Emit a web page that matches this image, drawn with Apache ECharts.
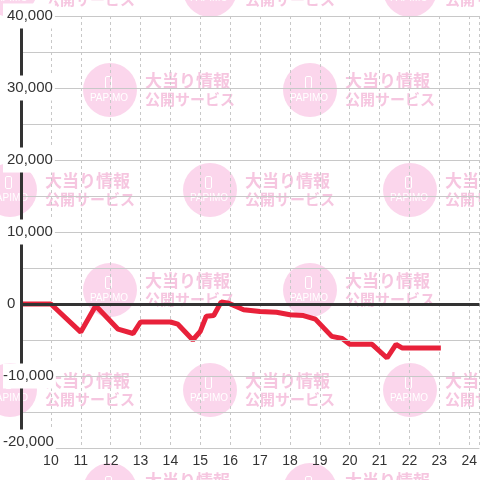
<!DOCTYPE html>
<html>
<head>
<meta charset="utf-8">
<script src="https://cdn.jsdelivr.net/npm/echarts@6/dist/echarts.min.js"></script>
<style>html,body{margin:0;padding:0;background:#fff;}#c{width:480px;height:480px;}</style>
</head>
<body>
<div id="c"></div>
<script>
// Data
const hours = [9, 10, 11, 11.5, 12.25, 12.75, 13, 14, 14.25, 14.75, 15, 15.2, 15.45, 15.7, 15.95, 16.45, 17, 17.55, 18, 18.45, 18.85, 19.4, 19.75, 20, 20.75, 21.25, 21.55, 21.75, 23.05];
const values = [0, 0, -3900, -250, -3500, -4100, -2500, -2500, -2800, -5000, -3800, -1700, -1600, 300, 100, -800, -1050, -1150, -1500, -1600, -2100, -4500, -4800, -5600, -5600, -7500, -5600, -6100, -6100];
const xTicks = [10, 11, 12, 13, 14, 15, 16, 17, 18, 19, 20, 21, 22, 23, 24];
const yTicks = [-20000, -10000, 0, 10000, 20000, 30000, 40000];

const FONT = "'Liberation Sans', Arial, sans-serif";
const CJK = "'Noto Sans CJK JP', sans-serif";
const series = hours.map((h, i) => [h, values[i]]);

// Watermark tiles (decoration)
const wm = [];
const rows = [-10, 90, 190, 290, 390, 490];
rows.forEach((cy, r) => {
  const xs = (r % 2 === 0) ? [10, 210, 410] : [110, 310];
  xs.forEach(cx => {
    wm.push({type: 'circle', z: -1, silent: true, shape: {cx: cx, cy: cy, r: 27}, style: {fill: '#fbd6ec'}});
    wm.push({type: 'rect', z: -1, silent: true, shape: {x: cx - 4.5, y: cy - 13.5, width: 6, height: 12, r: 1.5}, style: {fill: 'none', stroke: '#fff', lineWidth: 1}});
    wm.push({type: 'text', z: -1, silent: true, x: cx - 1, y: cy + 8, style: {text: 'PAPIMO', fill: '#fff', font: '10px ' + FONT, align: 'center', verticalAlign: 'middle'}});
    wm.push({type: 'text', z: -1, silent: true, x: cx + 35, y: cy - 9, style: {text: '大当り情報', fill: '#f6c6e0', font: 'bold 17px ' + CJK, align: 'left', verticalAlign: 'middle'}});
    wm.push({type: 'text', z: -1, silent: true, x: cx + 35, y: cy + 9, style: {text: '公開サービス', fill: '#f6c6e0', font: 'bold 15px ' + CJK, align: 'left', verticalAlign: 'middle'}});
  });
});

const labelStyle = {color: '#333', fontSize: 15, fontFamily: FONT, backgroundColor: '#fff'};

const chart = echarts.init(document.getElementById('c'), null, {renderer: 'canvas'});
chart.setOption({
  animation: false,
  backgroundColor: '#fff',
  graphic: {elements: wm},
  grid: {left: 20.5, right: -1, top: 16, bottom: 32, containLabel: false},
  xAxis: {
    type: 'value', min: 9, max: 24.343, interval: 1, z: 1,
    axisLine: {show: false}, axisTick: {show: false},
    splitLine: {show: true, lineStyle: {color: '#c8c8c8', type: [3, 3], width: 1}},
    axisLabel: {
      showMinLabel: false, showMaxLabel: false, margin: 6,
      color: '#333', fontSize: 14, fontFamily: FONT,
      formatter: v => xTicks.indexOf(v) >= 0 ? String(v) : ''
    }
  },
  yAxis: {
    type: 'value', min: -20000, max: 40000, interval: 10000, z: 5,
    axisLine: {show: true, onZero: false, lineStyle: {color: '#333', width: 3}},
    axisTick: {show: false},
    splitLine: {show: true, lineStyle: {color: '#c8c8c8', width: 1}},
    minorTick: {show: false, splitNumber: 2},
    minorSplitLine: {show: true, lineStyle: {color: '#c8c8c8', width: 1}},
    axisLabel: {
      align: 'left', margin: 18, color: '#333', fontSize: 15, fontFamily: FONT,
      formatter: v => {
        if (yTicks.indexOf(v) < 0) return '';
        const s = Math.abs(v).toLocaleString('en-US');
        if (v === -20000) return '{n|-' + s + '}\n{s| }';
        return v < 0 ? '{n|-' + s + '}' : '{p|' + s + '}';
      },
      rich: {
        n: Object.assign({padding: [5, 2, 5, 0]}, labelStyle),
        p: Object.assign({padding: [5, 2, 5, 4]}, labelStyle),
        s: {fontSize: 6, lineHeight: 12, color: 'rgba(0,0,0,0)'}
      }
    }
  },
  series: [
    {
      type: 'line', data: [], z: 1, silent: true,
      markLine: {
        silent: true, symbol: ['none', 'none'], label: {show: false},
        lineStyle: {color: '#333', width: 3, type: 'solid'},
        data: [{yAxis: 0}]
      }
    },
    {
      type: 'line', data: series, z: 3, symbol: 'none', smooth: false,
      lineStyle: {color: '#e8213a', width: 5},
      itemStyle: {color: '#e8213a'}
    }
  ]
});
</script>
</body>
</html>
